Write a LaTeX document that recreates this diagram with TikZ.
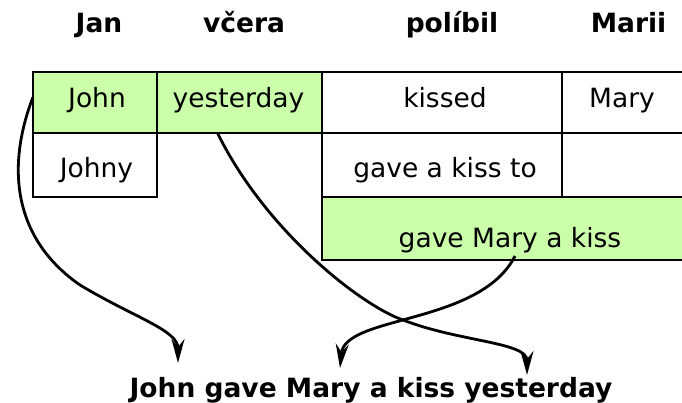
\documentclass[tikz,border=0pt]{standalone}
\usepackage{fontspec}
\setmainfont{DejaVu Sans}
\usetikzlibrary{arrows.meta}
\definecolor{cellgreen}{RGB}{204,255,170}
\begin{document}
\begin{tikzpicture}[x=1pt,y=-1pt,
  cell/.style={draw=black, line width=1.5pt, inner sep=0pt, outer sep=0pt, rectangle},
  green/.style={cell, fill=cellgreen},
  txt/.style={font=\fontsize{26.5pt}{30pt}\selectfont, inner sep=0pt, anchor=base},
  hdr/.style={txt, font=\fontsize{26.5pt}{30pt}\selectfont\bfseries},
  conn/.style={line width=2.8pt, -{Stealth[length=24pt,width=13pt,inset=8pt]}}]
\useasboundingbox (0,0) rectangle (682,402);
\clip (0,0) rectangle (682,402);
% headers
\node[hdr] (hJan) at (99,32) {Jan};
\node[hdr] (hVcera) at (244,32) {včera};
\node[hdr] (hPolibil) at (452,32) {políbil};
\node[hdr] (hMarii) at (628.5,32) {Marii};
% row 1
\node[green, minimum width=124pt, minimum height=61pt] (john) at (95,102.5) {};
\node[green, minimum width=165pt, minimum height=61pt] (yest) at (239.5,102.5) {};
\node[cell, minimum width=240pt, minimum height=61pt] (kissed) at (442,102.5) {};
\node[cell, minimum width=124pt, minimum height=61pt] (mary) at (624,102.5) {};
% row 2
\node[cell, minimum width=124pt, minimum height=64pt] (johny) at (95,165) {};
\node[cell, minimum width=240pt, minimum height=64pt] (gakt) at (442,165) {};
\node[cell, minimum width=124pt, minimum height=64pt] (mary2) at (624,165) {};
% row 3
\node[green, minimum width=376pt, minimum height=63pt] (gmak) at (510,228.5) {};
% cell texts
\node[txt] (tJohn) at (97,107) {John};
\node[txt] (tYest) at (238.5,107) {yesterday};
\node[txt] (tKissed) at (445,107) {kissed};
\node[txt] (tMary) at (622,107) {Mary};
\node[txt] (tJohny) at (96.5,177) {Johny};
\node[txt] (tGakt) at (445,177) {gave a kiss to};
\node[txt] (tGmak) at (510,247) {gave Mary a kiss};
% sentence
\node[hdr] (sentence) at (371,397) {John gave Mary a kiss yesterday};
% arrow targets
\coordinate (aJohn) at (178,363);
\coordinate (aMary) at (340,368);
\coordinate (aYest) at (527,375);
% connectors
\draw[conn] ([yshift=5.5pt]john.west) .. controls (5,170) and (15,240) .. (80,285)
  .. controls (135,318) and (178,330) .. (aJohn);
\draw[conn] ([xshift=-22pt]yest.south) .. controls (265,230) and (360,305) .. (403,320)
  .. controls (460,342) and (527,342) .. (aYest);
\draw[conn] ([xshift=5pt,yshift=4pt]gmak.south) .. controls (480,325) and (345,315) .. (aMary);
\end{tikzpicture}
\end{document}
